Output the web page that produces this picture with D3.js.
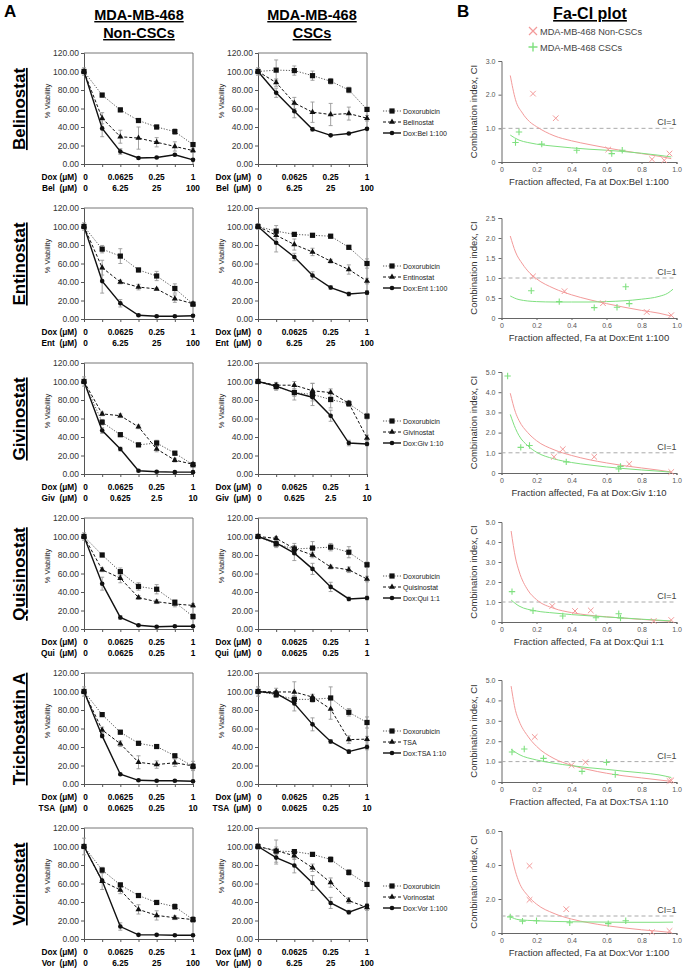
<!DOCTYPE html>
<html><head><meta charset="utf-8">
<script src="https://cdnjs.cloudflare.com/ajax/libs/d3/7.8.5/d3.min.js"></script>
<style>body{margin:0;background:#fff} svg{display:block} text{font-family:Arial,"Liberation Sans",sans-serif}</style>
</head><body><svg id="c" width="685" height="969"></svg>
<script>
// ---------------- DATA ----------------
const drugNames   = ["Belinostat","Entinostat","Givinostat","Quisinostat","Trichostatin A","Vorinostat"];
const drugAbbr    = ["Bel","Ent","Giv","Qui","TSA","Vor"];
const legendDrug  = ["Belinostat","Entinostat","Givinostat","Quisinostat","TSA","Vorinostat"];
const comboLabels = ["Dox:Bel 1:100","Dox:Ent 1:100","Dox:Giv 1:10","Dox:Qui 1:1","Dox:TSA 1:10","Dox:Vor 1:100"];
const doseIndex   = [0,1,2,3,4,5,6];
const labelIndex  = [0,2,4,6];
const doxDoseLabels  = ["0","0.0625","0.25","1"];
const drugDoseLabels = [["0","6.25","25","100"],["0","6.25","25","100"],["0","0.625","2.5","10"],
                        ["0","0.0625","0.25","1"],["0","0.0625","0.25","10"],["0","6.25","25","100"]];
const viabTicks = [0,20,40,60,80,100,120];

const nonDox = [[100,74.5,58.5,47,40,35,21],[100,75.5,68,53,46.5,33,16],[100,56,42.5,31.5,33.5,22.5,10],
                [100,80,62,46,43,29,13.5],[100,75,56,44,40.5,30.5,19],[100,74.5,58.5,47,39.5,35,21]];
const nonDrug = [[100,49.5,29.5,28,23.5,19,14.5],[100,55.5,40,34.5,32.5,22,16.5],[100,65,63,51,27,15,10.5],
                 [100,64,55,34,29.5,27,25.5],[100,58.5,43.5,23.5,21,23,19.5],[100,62.5,53,32,25.5,23,21]];
const nonCombo = [[100,38.5,13.5,6.5,7,10,4.5],[100,41,17,4,3,3,3.5],[100,47,27,3.5,2.5,2,2],
                  [100,49,12.5,4,2.5,3,3],[100,52,10.5,4,3.5,3.5,3],[100,63,13.5,4.5,4.5,4,4]];
const cscDox = [[100,101.5,101,95.5,89.5,80,59],[100,95,91.5,90.5,89.5,77.5,60],[100,94.5,88,86,80.5,76,62.5],
                [100,92,86.5,87.5,88.5,83,69.5],[100,96.5,91.5,91.5,93,77.5,66.5],[100,95,94.5,91.5,86,72,59]];
const cscDrug = [[100,88,66,56,53.5,54.5,49.5],[100,90.5,80.5,72.5,62.5,53.5,41],[100,96,96,90,88,76.5,39],
                 [100,98,87,80,67,64,54],[100,99.5,99.5,94,81,48,48.5],[100,95.5,90,77,61,41.5,34]];
const cscCombo = [[100,77,57,37.5,31,33,38],[100,82.5,67,47,34,27,28.5],[100,95,88,83,63,33.5,32.5],
                  [100,93,82,65,45.5,32.5,33.5],[100,98,87,64.5,46,35,40],[100,88,79.5,60.5,39,29,36]];

const nonDoxErr = [[4,2,2,2,2,3,2],[4,4,8,2,5,5,2],[5,3,2,2,3,2,2],[4,2,4,4,5,2,3],[5,2,2,2,1,2,3],[9,3,2,2,2,3,2]];
const nonDrugErr = [[0,6,7,12,5,5,2],[0,8,2,3,1,4,2],[0,2,2,2,3,2,2],[0,2,5,2,2,3,2],[0,3,3,7,4,4,5],[0,9,4,5,5,2,3]];
const nonComboErr = [[0,9,3,1,1,1,1],[0,13,4,1,1,1,1],[0,3,2,1,1,1,1],[0,7,2,1,1,1,1],[0,2,1,1,1,1,1],[0,2,4,1,1,1,1]];
const cscDoxErr = [[4,11,5,5,3,3,2],[3,6,2,2,2,2,5],[2,4,4,12,9,3,3],[2,4,6,7,4,6,3],[5,3,4,3,12,4,6],[3,12,2,2,3,3,2]];
const cscDrugErr = [[0,4,6,11,12,7,3],[0,4,6,4,2,5,3],[0,3,4,8,4,3,3],[0,2,3,3,2,3,3],[0,4,11,3,11,4,3],[0,4,4,4,5,3,3]];
const cscComboErr = [[2,5,7,2,1,1,1],[0,10,4,4,2,2,2],[0,3,8,4,6,3,2],[0,3,8,6,5,2,2],[0,3,8,7,2,2,3],[0,7,8,8,6,2,2]];

const faYMax = [3,2.5,5,5,5,6];
const faYTicks = [[0,1,2,3],[0,0.5,1,1.5,2,2.5],[0,1,2,3,4,5],[0,1,2,3,4,5],[0,1,2,3,4,5],[0,2,4,6]];
const faXTicks = [0,0.2,0.4,0.6,0.8,1.0];
const faNonPts = [
  [[0.18,2.03],[0.31,1.3],[0.61,0.37],[0.86,0.08],[0.93,0.05],[0.96,0.25]],
  [[0.18,1.04],[0.36,0.67],[0.58,0.37],[0.83,0.15],[0.97,0.07]],
  [[0.30,0.8],[0.35,1.18],[0.53,0.8],[0.73,0.45],[0.97,0.05]],
  [[0.29,0.8],[0.42,0.55],[0.51,0.58],[0.87,0.05],[0.97,0.1]],
  [[0.19,2.21],[0.40,0.82],[0.48,0.97],[0.96,0.05],[0.97,0.08]],
  [[0.16,3.95],[0.16,1.95],[0.37,1.4],[0.86,0.05],[0.96,0.12]]];
const faCscPts = [
  [[0.08,0.58],[0.10,0.89],[0.23,0.53],[0.43,0.35],[0.63,0.25],[0.69,0.35]],
  [[0.17,0.68],[0.33,0.41],[0.53,0.26],[0.66,0.27],[0.71,0.78],[0.73,0.36]],
  [[0.035,4.8],[0.11,1.27],[0.16,1.36],[0.37,0.55],[0.67,0.2],[0.68,0.33]],
  [[0.06,1.52],[0.18,0.56],[0.35,0.3],[0.54,0.21],[0.67,0.41],[0.68,0.2]],
  [[0.06,1.47],[0.13,1.62],[0.24,1.16],[0.46,0.52],[0.60,0.96],[0.65,0.37]],
  [[0.05,0.95],[0.12,0.7],[0.2,0.72],[0.39,0.6],[0.61,0.55],[0.71,0.72]]];
const faNonCurve = [
  [[0.05,2.57],[0.08,1.85],[0.12,1.45],[0.16,1.2],[0.2,1.05],[0.3,0.78],[0.4,0.63],[0.5,0.52],[0.6,0.42],[0.7,0.33],[0.8,0.25],[0.9,0.17],[0.97,0.1]],
  [[0.05,2.05],[0.08,1.65],[0.12,1.35],[0.16,1.13],[0.2,0.98],[0.3,0.74],[0.4,0.58],[0.5,0.46],[0.6,0.36],[0.7,0.27],[0.8,0.19],[0.9,0.12],[0.97,0.05]],
  [[0.05,3.95],[0.08,3.0],[0.1,2.6],[0.15,2.0],[0.2,1.6],[0.3,1.15],[0.4,0.87],[0.5,0.66],[0.6,0.5],[0.7,0.36],[0.8,0.25],[0.9,0.14],[0.97,0.05]],
  [[0.055,4.55],[0.08,3.2],[0.1,2.55],[0.15,1.6],[0.2,1.12],[0.3,0.68],[0.4,0.47],[0.5,0.34],[0.6,0.26],[0.7,0.19],[0.8,0.13],[0.9,0.07],[0.97,0.03]],
  [[0.055,4.7],[0.08,3.5],[0.1,3.0],[0.15,2.25],[0.2,1.75],[0.3,1.15],[0.4,0.82],[0.5,0.6],[0.6,0.43],[0.7,0.3],[0.8,0.2],[0.9,0.1],[0.97,0.03]],
  [[0.05,4.9],[0.08,3.6],[0.1,3.0],[0.15,2.2],[0.2,1.7],[0.3,1.15],[0.4,0.82],[0.5,0.6],[0.6,0.43],[0.7,0.3],[0.8,0.19],[0.9,0.1],[0.97,0.03]]];
const faCscCurve = [
  [[0.05,0.8],[0.1,0.65],[0.15,0.58],[0.2,0.53],[0.3,0.47],[0.4,0.42],[0.5,0.38],[0.6,0.35],[0.7,0.31],[0.8,0.26],[0.9,0.2],[0.97,0.15]],
  [[0.05,0.55],[0.1,0.46],[0.2,0.41],[0.3,0.4],[0.4,0.4],[0.5,0.4],[0.6,0.41],[0.7,0.43],[0.8,0.47],[0.9,0.54],[0.95,0.62],[0.98,0.72]],
  [[0.05,2.9],[0.08,2.2],[0.1,1.85],[0.15,1.35],[0.2,1.03],[0.3,0.7],[0.4,0.52],[0.5,0.4],[0.6,0.3],[0.7,0.22],[0.8,0.15],[0.9,0.09],[0.97,0.04]],
  [[0.055,1.1],[0.1,0.8],[0.2,0.55],[0.3,0.45],[0.4,0.37],[0.5,0.31],[0.6,0.25],[0.7,0.2],[0.8,0.14],[0.9,0.09],[0.97,0.05]],
  [[0.055,1.6],[0.1,1.35],[0.2,1.08],[0.3,0.92],[0.4,0.8],[0.5,0.7],[0.6,0.62],[0.7,0.53],[0.8,0.45],[0.9,0.35],[0.97,0.22]],
  [[0.05,0.95],[0.1,0.78],[0.2,0.72],[0.3,0.68],[0.5,0.65],[0.7,0.63],[0.9,0.63],[0.98,0.64]]];

// ---------------- LAYOUT ----------------
const svg = d3.select("#c");
const rowBase = [164,319,474,629,784,939];
const plotH = 111, plotW = 109;
const colX = [84, 258];
const faBottom = [162,318,473,622,782,933];
const faTop = [61,218,372,522,680,831];
const faX0 = 501.5, faX1 = 676.5;
const RED = "#f39a9a", GREEN = "#7fe07f";

function txt(x,y,s,opt={}) {
  const t = svg.append("text").attr("x",x).attr("y",y).text(s)
    .attr("font-size",opt.size||10).attr("fill",opt.fill||"#000")
    .attr("text-anchor",opt.anchor||"start");
  if (opt.bold) t.attr("font-weight","bold");
  if (opt.ul) t.attr("text-decoration","underline");
  if (opt.rot) t.attr("transform",`rotate(-90,${x},${y})`);
  if (opt.pre) t.style("white-space","pre");
  return t;
}

// headers
txt(4,17,"A",{size:17,bold:true});
txt(139,20,"MDA-MB-468",{size:14.5,bold:true,ul:true,anchor:"middle"});
txt(139,38,"Non-CSCs",{size:14.5,bold:true,ul:true,anchor:"middle"});
txt(312,20,"MDA-MB-468",{size:14.5,bold:true,ul:true,anchor:"middle"});
txt(312,38,"CSCs",{size:14.5,bold:true,ul:true,anchor:"middle"});
txt(457,17,"B",{size:17,bold:true});
txt(590,19,"Fa-CI plot",{size:16,bold:true,ul:true,anchor:"middle"});

function xMark(g,cx,cy,s,color,w){
  g.append("path").attr("d",`M${cx-s},${cy-s}L${cx+s},${cy+s}M${cx-s},${cy+s}L${cx+s},${cy-s}`)
   .attr("stroke",color).attr("stroke-width",w||1).attr("fill","none");
}
function plusMark(g,cx,cy,s,color,w){
  g.append("path").attr("d",`M${cx-s},${cy}L${cx+s},${cy}M${cx},${cy-s}L${cx},${cy+s}`)
   .attr("stroke",color).attr("stroke-width",w||1).attr("fill","none");
}
// Fa-CI legend
xMark(svg,533,31,4,RED,1.2); txt(540,34.5,"MDA-MB-468 Non-CSCs",{size:9.2,fill:"#444"});
plusMark(svg,533,47,4.5,GREEN,1.4); txt(540,50.5,"MDA-MB-468 CSCs",{size:9.2,fill:"#444"});

const seriesStyle = [
  {dash:"1.2,1.6", color:"#555", w:1, marker:"square"},
  {dash:"3,2", color:"#111", w:1, marker:"triangle"},
  {dash:null, color:"#111", w:1.4, marker:"circle"}];

function marker(g,type,cx,cy){
  if (type==="square") g.append("rect").attr("x",cx-2.6).attr("y",cy-2.6).attr("width",5.2).attr("height",5.2).attr("fill","#111");
  else if (type==="triangle") g.append("path").attr("d",d3.symbol(d3.symbolTriangle,16)()).attr("transform",`translate(${cx},${cy})`).attr("fill","#111");
  else g.append("circle").attr("cx",cx).attr("cy",cy).attr("r",2.3).attr("fill","#111");
}

function viabPanel(r, c, dox, drug, combo, errs){
  const x0 = colX[c], base = rowBase[r];
  const g = svg.append("g");
  const x = d3.scalePoint().domain(doseIndex).range([x0, x0+plotW]);
  const y = d3.scaleLinear().domain([0,120]).range([base, base-plotH]);
  g.append("path").attr("d",`M${x0},${base-plotH}H${x0+plotW}V${base}`).attr("stroke","#777").attr("fill","none");
  const ya = g.append("g").attr("transform",`translate(${x0},0)`)
    .call(d3.axisLeft(y).tickValues(viabTicks).tickFormat(d3.format(".2f")).tickSize(3).tickPadding(2));
  const xa = g.append("g").attr("transform",`translate(0,${base})`)
    .call(d3.axisBottom(x).tickSize(3).tickFormat(""));
  [ya,xa].forEach(a=>{a.select(".domain").attr("stroke","#555"); a.selectAll(".tick line").attr("stroke","#555");
    a.selectAll("text").attr("font-size",8.5).attr("fill","#333").attr("font-family",'Arial,"Liberation Sans",sans-serif');});
  txt(x0-34, y(68), "% Viability", {size:7.5, fill:"#222", anchor:"middle", rot:true});
  txt(x0-7, base+16, "Dox (μM)", {size:8.3, bold:true, anchor:"end"});
  txt(x0-7, base+27, drugAbbr[r]+"  (μM)", {size:8.3, bold:true, anchor:"end", pre:true});
  labelIndex.forEach((li,k)=>{
    txt(x(li)+(k===0?1.5:0), base+16, doxDoseLabels[k], {size:8.3, bold:true, anchor:"middle"});
    txt(x(li)+(k===0?1.5:0), base+27, drugDoseLabels[r][k], {size:8.3, bold:true, anchor:"middle"});
  });
  const sets = [dox, drug, combo];
  sets.forEach((s,si)=>{
    s.forEach((v,i)=>{
      const e = errs[si][i]; if (!e) return;
      const cx = x(doseIndex[i]);
      g.append("path").attr("d",`M${cx},${y(v-e)}V${y(v+e)}M${cx-2},${y(v-e)}H${cx+2}M${cx-2},${y(v+e)}H${cx+2}`)
        .attr("stroke","#999").attr("stroke-width",0.9).attr("fill","none");
    });
  });
  const line = d3.line().x((d,i)=>x(doseIndex[i])).y(d=>y(d));
  sets.forEach((s,si)=>{
    const st = seriesStyle[si];
    g.append("path").attr("d",line(s)).attr("fill","none").attr("stroke",st.color).attr("stroke-width",st.w)
      .attr("stroke-dasharray",st.dash);
    s.forEach((v,i)=>marker(g,st.marker,x(doseIndex[i]),y(v)));
  });
  if (c===1){
    const names = ["Doxorubicin", legendDrug[r], comboLabels[r]];
    const offs = [-53,-42,-31];
    names.forEach((n,k)=>{
      const ly = base+offs[k], st = seriesStyle[k];
      g.append("line").attr("x1",383).attr("x2",401).attr("y1",ly).attr("y2",ly).attr("stroke",st.color)
        .attr("stroke-width",st.w).attr("stroke-dasharray",st.dash);
      marker(g,st.marker,392,ly);
      txt(403,ly+2.5,n,{size:7,fill:"#222"});
    });
  }
}

function faPanel(r){
  const g = svg.append("g");
  const x = d3.scaleLinear().domain([0,1]).range([faX0,faX1]);
  const y = d3.scaleLinear().domain([0,faYMax[r]]).range([faBottom[r],faTop[r]]);
  const fmt = d => d===0 ? "0" : d3.format(".1f")(d);
  const ya = g.append("g").attr("transform",`translate(${faX0},0)`).call(d3.axisLeft(y).tickValues(faYTicks[r]).tickFormat(fmt).tickSize(3).tickPadding(3));
  const xa = g.append("g").attr("transform",`translate(0,${faBottom[r]})`).call(d3.axisBottom(x).tickValues(faXTicks).tickFormat(fmt).tickSize(2).tickPadding(3));
  [ya,xa].forEach(a=>{a.select(".domain").attr("stroke","#666"); a.selectAll(".tick line").attr("stroke","#666");
    a.selectAll("text").attr("font-size",7).attr("fill","#555").attr("font-family",'Arial,"Liberation Sans",sans-serif');});
  g.append("line").attr("x1",faX0).attr("x2",faX1).attr("y1",y(1)).attr("y2",y(1)).attr("stroke","#aaa").attr("stroke-dasharray","4,3");
  txt(faX1,y(1)-3,"CI=1",{size:9,fill:"#444",anchor:"end"});
  const line = d3.line().x(d=>x(d[0])).y(d=>y(d[1])).curve(d3.curveMonotoneX);
  g.append("path").attr("d",line(faNonCurve[r])).attr("fill","none").attr("stroke",RED).attr("stroke-width",1);
  g.append("path").attr("d",line(faCscCurve[r])).attr("fill","none").attr("stroke",GREEN).attr("stroke-width",1);
  faNonPts[r].forEach(p=>xMark(g,x(p[0]),y(p[1]),2.8,RED,1));
  faCscPts[r].forEach(p=>plusMark(g,x(p[0]),y(p[1]),3.2,GREEN,1.1));
  txt(477,(faTop[r]+faBottom[r])/2,"Combination index, CI",{size:9.5,fill:"#333",anchor:"middle",rot:true});
  txt(589,faBottom[r]+23,"Fraction affected, Fa at "+comboLabels[r],{size:9.5,fill:"#333",anchor:"middle"});
}

for (let r=0;r<6;r++){
  txt(25, rowBase[r]-55, drugNames[r], {size:17, bold:true, ul:true, anchor:"middle", rot:true});
  viabPanel(r,0,nonDox[r],nonDrug[r],nonCombo[r],[nonDoxErr[r],nonDrugErr[r],nonComboErr[r]]);
  viabPanel(r,1,cscDox[r],cscDrug[r],cscCombo[r],[cscDoxErr[r],cscDrugErr[r],cscComboErr[r]]);
  faPanel(r);
}
</script></body></html>
